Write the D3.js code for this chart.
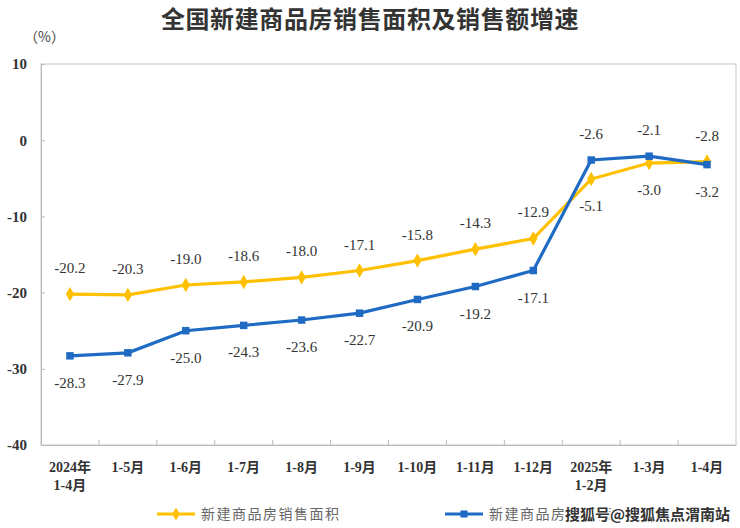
<!DOCTYPE html>
<html><head><meta charset="utf-8">
<script src="https://cdn.jsdelivr.net/npm/d3@7"></script>
<style>body{margin:0;background:#fff}svg{display:block}</style>
</head><body>
<svg id="c" width="740" height="528"></svg>
<script>
const categories = [["2024年","1-4月"],["1-5月"],["1-6月"],["1-7月"],["1-8月"],["1-9月"],["1-10月"],["1-11月"],["1-12月"],["2025年","1-2月"],["1-3月"],["1-4月"]];
const areaGrowth = [-20.2,-20.3,-19.0,-18.6,-18.0,-17.1,-15.8,-14.3,-12.9,-5.1,-3.0,-2.8];
const salesGrowth = [-28.3,-27.9,-25.0,-24.3,-23.6,-22.7,-20.9,-19.2,-17.1,-2.6,-2.1,-3.2];
const yTicks = [10,0,-10,-20,-30,-40];
const areaLabelAbove = [1,1,1,1,1,1,1,1,1,0,0,1];
const salesLabelAbove = [0,0,0,0,0,0,0,0,0,1,1,0];
const seriesNames = ["新建商品房销售面积","新建商品房销售额"];
const title = "全国新建商品房销售面积及销售额增速";

const svg = d3.select("#c");
const L=41,R=736,T=64,B=445;
const x = d3.scaleBand().domain(d3.range(categories.length)).range([L,R]);
const y = d3.scaleLinear().domain([-40,10]).range([B,T]);
const yellow="#FFC000", blue="#1F6BC4";
const serif="'Liberation Serif','Times New Roman','Noto Sans CJK SC',serif";

svg.append("text").attr("x",370).attr("y",28).attr("text-anchor","middle")
  .attr("font-family","'Noto Sans CJK SC',sans-serif").attr("font-weight","bold").attr("font-size",24)
  .attr("letter-spacing",0.6).attr("fill","#333").text(title);
svg.append("text").attr("x",24).attr("y",42).attr("font-family","'Noto Sans CJK SC',serif")
  .attr("font-size",14).attr("fill","#444").text("（%）");

// frame
svg.append("rect").attr("x",L).attr("y",T).attr("width",R-L).attr("height",B-T)
  .attr("fill","none").attr("stroke","#cfcfcf").attr("stroke-width",1.2);

// y axis
const yAxis = d3.axisLeft(y).tickValues(yTicks).tickSize(-4).tickPadding(14).tickFormat(d=>String(d));
const ya = svg.append("g").attr("transform",`translate(${L},0)`).call(yAxis);
ya.select(".domain").attr("stroke","#bbb");
ya.selectAll(".tick line").attr("stroke","#bbb");
ya.selectAll(".tick text").attr("font-family",serif).attr("font-weight","bold").attr("font-size",15).attr("fill","#333");

// x axis
const xAxis = d3.axisBottom(x).tickSize(0).tickFormat("");
const xa = svg.append("g").attr("transform",`translate(0,${B})`).call(xAxis);
xa.select(".domain").attr("stroke","#bbb");
xa.selectAll(".tick").remove();
svg.append("g").selectAll("line").data(d3.range(1,categories.length)).join("line")
  .attr("x1",i=>x(i)).attr("x2",i=>x(i)).attr("y1",B).attr("y2",B-5).attr("stroke","#bbb");
svg.append("g").selectAll("text").data(categories).join("text")
  .attr("x",(d,i)=>x(i)+x.bandwidth()/2).attr("y",472).attr("text-anchor","middle")
  .attr("font-family",serif).attr("font-weight","bold").attr("font-size",14).attr("fill","#333")
  .each(function(d){const tx=d3.select(this).attr("x");
    d3.select(this).selectAll("tspan").data(d).join("tspan")
    .attr("x",tx).attr("dy",(s,j)=>j?18:0).text(s=>s);});

const cx = i => x(i)+x.bandwidth()/2;
const line = d3.line().x((d,i)=>cx(i)).y(d=>y(d));

function drawSeries(data,color,shape,above){
  svg.append("path").datum(data).attr("d",line).attr("fill","none").attr("stroke",color).attr("stroke-width",3.2);
  svg.append("g").selectAll("path").data(data).join("path")
    .attr("transform",(d,i)=>`translate(${cx(i)},${y(d)})`)
    .attr("d",d3.symbol().type(shape).size(shape===d3.symbolSquare?56:60)).attr("fill",color);
  svg.append("g").selectAll("text").data(data).join("text")
    .attr("x",(d,i)=>cx(i)).attr("y",(d,i)=>y(d)+(above[i]?-21:32)).attr("text-anchor","middle")
    .attr("font-family",serif).attr("font-size",15).attr("fill","#333").text(d=>d.toFixed(1));
}
drawSeries(areaGrowth,yellow,d3.symbolDiamond,areaLabelAbove);
drawSeries(salesGrowth,blue,d3.symbolSquare,salesLabelAbove);

// legend
const leg=[{x:157,c:yellow,s:d3.symbolDiamond,n:seriesNames[0]},{x:445,c:blue,s:d3.symbolSquare,n:seriesNames[1]}];
leg.forEach(l=>{
  svg.append("line").attr("x1",l.x).attr("x2",l.x+38).attr("y1",514).attr("y2",514).attr("stroke",l.c).attr("stroke-width",3.2);
  svg.append("path").attr("transform",`translate(${l.x+19},514)`).attr("d",d3.symbol().type(l.s).size(50)).attr("fill",l.c);
  svg.append("text").attr("x",l.x+44).attr("y",519).attr("font-family","'Noto Sans CJK SC',sans-serif")
    .attr("font-size",14).attr("letter-spacing",1.5).attr("fill","#666").text(l.n);
});
svg.append("text").attr("x",565).attr("y",520).attr("font-family","'Noto Sans CJK SC',sans-serif")
  .attr("font-weight","bold").attr("font-size",15).attr("fill","#333").attr("stroke","#fff").attr("stroke-width",3)
  .attr("paint-order","stroke").text("搜狐号@搜狐焦点渭南站");
</script>
</body></html>
